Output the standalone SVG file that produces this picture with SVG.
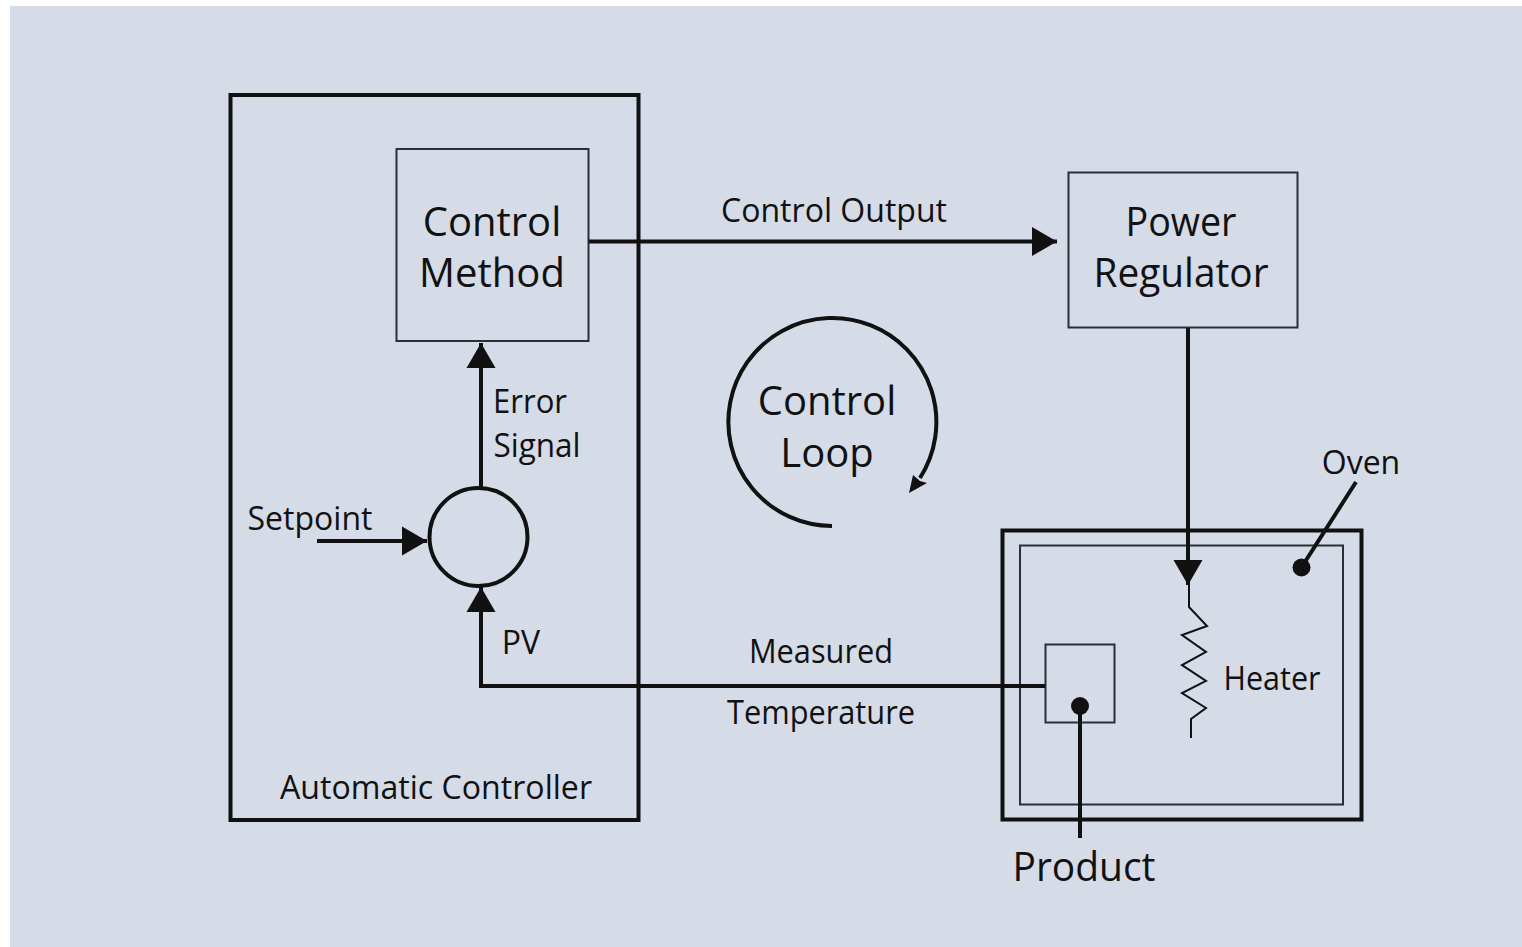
<svg xmlns="http://www.w3.org/2000/svg" width="1522" height="947" viewBox="0 0 1522 947">
<style>
text{font-family:"Open Sans","Noto Sans","Liberation Sans",sans-serif;fill:#111;text-anchor:middle;}
.l{font-size:40px}.m{font-size:32px}
.box{fill:none;stroke:#111}
.thin{fill:none;stroke:#2a2e36;stroke-width:2}
.c{fill:none;stroke:#111;stroke-width:4}
.h{fill:#111}
</style>
<defs><marker id="a" markerUnits="userSpaceOnUse" markerWidth="30" markerHeight="30" refX="25" refY="15" orient="auto"><path d="M0 0.500L25 15L0 29.500Z" fill="#111"/></marker></defs>
<rect width="1522" height="947" fill="#fff"/>
<rect x="10" y="6" width="1512" height="941" fill="#d5dbe7"/>
<g id="controller"><rect class="box" x="230.500" y="95" width="408" height="725" stroke-width="4"/><text class="m" x="436" y="799" textLength="312" lengthAdjust="spacingAndGlyphs">Automatic Controller</text></g>
<g id="method"><rect class="thin" x="396.500" y="149" width="192" height="192"/><text class="l" x="492" y="236">Control</text><text class="l" x="492" y="287">Method</text></g>
<g id="regulator"><rect class="thin" x="1068.500" y="172.500" width="229" height="155"/><text class="l" x="1181" y="236" textLength="111" lengthAdjust="spacingAndGlyphs">Power</text><text class="l" x="1181" y="287" textLength="175" lengthAdjust="spacingAndGlyphs">Regulator</text></g>
<g id="summer"><circle cx="478.500" cy="537" r="49" fill="none" stroke="#111" stroke-width="4"/></g>
<g id="oven"><rect class="box" x="1002.500" y="530.500" width="359" height="289" stroke-width="4"/><rect class="thin" x="1020" y="545.500" width="323" height="259"/><circle class="h" cx="1301.500" cy="567.500" r="9"/></g>
<g id="product"><rect class="thin" x="1045.500" y="644.500" width="69" height="78"/><circle class="h" cx="1080" cy="706" r="9"/></g>
<g id="heater"><path d="M1189 584V607L1207 626L1182 635L1206 652L1182 665L1206 681L1182 693L1206 708L1191 719V738" fill="none" stroke="#111" stroke-width="2"/></g>
<g id="connectors">
<path class="c" d="M589 241.500H1057" marker-end="url(#a)"/>
<path class="c" d="M1188 328V585" marker-end="url(#a)"/>
<path class="c" d="M481 488V343" marker-end="url(#a)"/>
<path class="c" d="M317 541H427" marker-end="url(#a)"/>
<path class="c" d="M1045 686H481V587" marker-end="url(#a)"/>
<path class="c" d="M1080 706V838"/>
<path class="c" d="M1356 482L1303 565"/>
<path class="c" d="M832 526A104 104 0 1 1 920 478"/>
<path class="h" d="M909 493L913 475L920 481L927 483Z"/>
</g>
<g id="labels">
<text class="m" x="834" y="222" textLength="226" lengthAdjust="spacingAndGlyphs">Control Output</text>
<text class="l" x="827" y="415">Control</text><text class="l" x="827" y="467">Loop</text>
<text class="m" x="530" y="413" textLength="74" lengthAdjust="spacingAndGlyphs">Error</text><text class="m" x="537" y="457" textLength="87" lengthAdjust="spacingAndGlyphs">Signal</text>
<text class="m" x="310" y="530">Setpoint</text>
<text class="m" x="521" y="654">PV</text>
<text class="m" x="821" y="663" textLength="144" lengthAdjust="spacingAndGlyphs">Measured</text><text class="m" x="821" y="724" textLength="188" lengthAdjust="spacingAndGlyphs">Temperature</text>
<text class="m" x="1361" y="474">Oven</text>
<text class="m" x="1272" y="690" textLength="97" lengthAdjust="spacingAndGlyphs">Heater</text>
<text class="l" x="1084" y="881" textLength="143" lengthAdjust="spacingAndGlyphs">Product</text>
</g>
</svg>
